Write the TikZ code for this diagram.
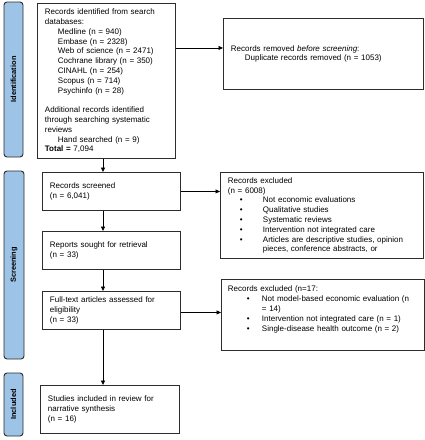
\documentclass[tikz,border=0pt]{standalone}
\usepackage{fontspec}
\setmainfont{Liberation Sans}
\usetikzlibrary{arrows.meta}
\definecolor{phasefill}{RGB}{157,195,230}
\definecolor{edge}{RGB}{45,45,45}
\begin{document}
\begin{tikzpicture}[x=1pt,y=-1pt,
  box/.style={draw=edge, line width=0.9pt, anchor=north west, inner xsep=7.5pt, inner ysep=0pt,
    align=left, font=\fontsize{8}{9.8}\selectfont},
  phase/.style={draw=edge, line width=0.9pt, fill=phasefill, rounded corners=3pt, rotate=90,
    inner sep=0pt, font=\fontsize{7.4}{8}\selectfont\bfseries},
  arr/.style={line width=0.8pt, -{Triangle[length=4.5pt,width=4pt]}}]
\fill[white] (0,0) rectangle (424,440);
\useasboundingbox (0,0) rectangle (424,440);

% phase labels
\node[phase, minimum width=155pt, minimum height=19pt] (pid) at (13.5,79.5) {Identification};
\node[phase, minimum width=188pt, minimum height=20pt] (psc) at (14,265) {Screening};
\node[phase, minimum width=63pt, minimum height=19pt] (pin) at (13.5,404.5) {Included};

% main column
\node[box, text width=123pt, minimum height=155pt] (b1) at (37,3) {Records identified from search\\
databases:\\
\hspace*{13pt}Medline (n = 940)\\
\hspace*{13pt}Embase (n = 2328)\\
\hspace*{13pt}Web of science (n = 2471)\\
\hspace*{13pt}Cochrane library (n = 350)\\
\hspace*{13pt}CINAHL (n = 254)\\
\hspace*{13pt}Scopus (n = 714)\\
\hspace*{13pt}Psychinfo (n = 28)\\[9.8pt]
Additional records identified\\
through searching systematic\\
reviews\\
\hspace*{13pt}Hand searched (n = 9)\\
\textbf{Total =} 7,094};

\node[box, text width=123pt, minimum height=38pt] (b2) at (42,172) {Records screened\\(n = 6,041)};
\node[box, text width=123pt, minimum height=38pt] (b3) at (42,231) {Reports sought for retrieval\\(n = 33)};
\node[box, text width=123pt, minimum height=38pt] (b4) at (42,291) {Full-text articles assessed for\\eligibility\\(n = 33)};
\node[box, text width=124pt, minimum height=48pt] (b5) at (40,385) {Studies included in review for\\narrative synthesis\\(n = 16)};

% side column
\node[box, text width=185pt, minimum height=71pt] (r1) at (223,18) {Records removed \textit{before screening}:\\
\hspace*{14pt}Duplicate records removed (n = 1053)};

\node[box, text width=188pt, minimum height=86pt] (e1) at (220,172) {Records excluded\\
(n = 6008)\\
\hspace*{12pt}\makebox[23pt][l]{\textbullet}Not economic evaluations\\
\hspace*{12pt}\makebox[23pt][l]{\textbullet}Qualitative studies\\
\hspace*{12pt}\makebox[23pt][l]{\textbullet}Systematic reviews\\
\hspace*{12pt}\makebox[23pt][l]{\textbullet}Intervention not integrated care\\
\hspace*{12pt}\makebox[23pt][l]{\textbullet}\mbox{Articles are descriptive studies, opinion}\\
\hspace*{35pt}pieces, conference abstracts, or};

\node[box, text width=190pt, minimum height=71pt, inner xsep=6.5pt] (e2) at (221,279) {Records excluded (n=17:\\
\hspace*{19pt}\makebox[15pt][l]{\textbullet}\mbox{Not model-based economic evaluation (n}\\
\hspace*{34pt}= 14)\\
\hspace*{19pt}\makebox[15pt][l]{\textbullet}\mbox{Intervention not integrated care (n = 1)}\\
\hspace*{19pt}\makebox[15pt][l]{\textbullet}\mbox{Single-disease health outcome (n = 2)}\\[3pt]
\mbox{}};

% connectors
\coordinate (ax) at (103,0);
\draw[arr] ([yshift=6pt]r1.west -| b1.east) -- ([yshift=6pt]r1.west);
\draw[arr] (b1.south -| ax) -- (b2.north -| ax);
\draw[arr] (b2.east) -- (b2.east -| e1.west);
\draw[arr] (b2.south -| ax) -- (b3.north -| ax);
\draw[arr] (b3.south -| ax) -- (b4.north -| ax);
\draw[arr] ([yshift=-2pt]b4.east) -- ([yshift=-2pt]b4.east -| e2.west);
\draw[arr] (b4.south -| ax) -- (b5.north -| ax);
\end{tikzpicture}
\end{document}
